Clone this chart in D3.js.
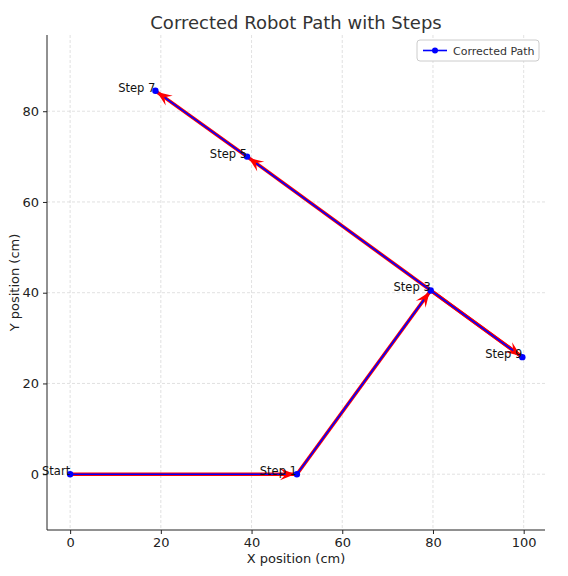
<!DOCTYPE html>
<html><head><meta charset="utf-8">
<script src="https://cdn.jsdelivr.net/npm/d3@7"></script>
<style>body{margin:0;background:#fff;font-family:"DejaVu Sans",sans-serif;}</style>
</head><body>
<script>
// path data
var labels = ["Start", "Step 1", "Step 3", "Step 9", "Step 5", "Step 7"];
var xs = [0, 50, 79.5, 99.7, 39, 18.8];
var ys = [0, 0, 40.5, 25.8, 70, 84.5];
var xTicks = [0, 20, 40, 60, 80, 100];
var yTicks = [0, 20, 40, 60, 80];

var margin = { top: 35, right: 23, bottom: 46, left: 47 },
  width = 568 - margin.left - margin.right,
  height = 576 - margin.top - margin.bottom;

var svg = d3.select("body").append("svg").attr("width", 568).attr("height", 576);
var g = svg.append("g").attr("transform", "translate(" + margin.left + "," + margin.top + ")");

var x = d3.scaleLinear().domain([-5.1, 104.7]).range([0, width]);
var y = d3.scaleLinear().domain([-12.3, 96.8]).range([height, 0]);

// grid
g.selectAll(".gx").data(xTicks).enter().append("line")
  .attr("x1", d => x(d)).attr("x2", d => x(d)).attr("y1", 0).attr("y2", height)
  .attr("stroke", "#ccc").attr("stroke-dasharray", "3,2").attr("stroke-width", 0.6);
g.selectAll(".gy").data(yTicks).enter().append("line")
  .attr("y1", d => y(d)).attr("y2", d => y(d)).attr("x1", 0).attr("x2", width)
  .attr("stroke", "#ccc").attr("stroke-dasharray", "3,2").attr("stroke-width", 0.6);

var ax = g.append("g").attr("transform", "translate(0," + height + ")")
  .call(d3.axisBottom(x).tickValues(xTicks).tickSize(4).tickPadding(4));
var ay = g.append("g").call(d3.axisLeft(y).tickValues(yTicks).tickSize(4).tickPadding(4));
[ax, ay].forEach(a => {
  a.selectAll("text").attr("font-size", 13).attr("fill", "#222").attr("font-family", "DejaVu Sans");
  a.selectAll("line").attr("stroke", "#222");
  a.select(".domain").attr("stroke", "#222");
});
ax.select(".domain").attr("d", "M0,0H" + width);
ay.select(".domain").attr("d", "M0,0V" + height);

var pts = xs.map((v, i) => [x(v), y(ys[i])]);

// red quiver shafts
for (var i = 0; i < pts.length - 1; i++) {
  g.append("line").attr("x1", pts[i][0]).attr("y1", pts[i][1])
    .attr("x2", pts[i + 1][0]).attr("y2", pts[i + 1][1])
    .attr("stroke", "red").attr("stroke-width", 3.5);
}
// blue path
g.append("path").datum(pts).attr("d", d3.line())
  .attr("fill", "none").attr("stroke", "blue").attr("stroke-width", 1.6);
// arrow heads
for (var i = 0; i < pts.length - 1; i++) {
  var a = pts[i], b = pts[i + 1];
  var ang = Math.atan2(b[1] - a[1], b[0] - a[0]);
  var tip = [b[0] - 2 * Math.cos(ang), b[1] - 2 * Math.sin(ang)];
  var L = 15, W = 6;
  var base = [tip[0] - L * Math.cos(ang), tip[1] - L * Math.sin(ang)];
  var p1 = [base[0] + W * Math.sin(ang), base[1] - W * Math.cos(ang)];
  var p2 = [base[0] - W * Math.sin(ang), base[1] + W * Math.cos(ang)];
  var mid = [tip[0] - 0.6 * L * Math.cos(ang), tip[1] - 0.6 * L * Math.sin(ang)];
  g.append("path").attr("d", "M" + tip + "L" + p1 + "L" + mid + "L" + p2 + "Z").attr("fill", "red");
}
g.selectAll(".pt").data(pts).enter().append("circle")
  .attr("cx", d => d[0]).attr("cy", d => d[1]).attr("r", 3.2).attr("fill", "blue");
g.selectAll(".lb").data(pts).enter().append("text")
  .attr("x", d => d[0]).attr("y", d => d[1] + 1).attr("text-anchor", "end")
  .attr("font-size", 11.5).attr("fill", "#111").text((d, i) => labels[i]);

// titles
svg.append("text").attr("x", margin.left + width / 2).attr("y", 29).attr("text-anchor", "middle")
  .attr("font-size", 18).attr("fill", "#333").text("Corrected Robot Path with Steps");
svg.append("text").attr("x", margin.left + width / 2).attr("y", 563).attr("text-anchor", "middle")
  .attr("font-size", 13).attr("fill", "#222").text("X position (cm)");
svg.append("text").attr("transform", "translate(19," + (margin.top + height / 2) + ") rotate(-90)")
  .attr("text-anchor", "middle").attr("font-size", 13).attr("fill", "#222").text("Y position (cm)");

// legend
var lg = svg.append("g").attr("transform", "translate(417,40)");
lg.append("rect").attr("width", 122).attr("height", 21).attr("rx", 3)
  .attr("fill", "#fff").attr("stroke", "#ccc");
lg.append("line").attr("x1", 6).attr("x2", 30).attr("y1", 10.5).attr("y2", 10.5).attr("stroke", "blue").attr("stroke-width", 1.6);
lg.append("circle").attr("cx", 18).attr("cy", 10.5).attr("r", 3).attr("fill", "blue");
lg.append("text").attr("x", 36).attr("y", 14.5).attr("font-size", 11).attr("fill", "#333").text("Corrected Path");
</script>
</body></html>
